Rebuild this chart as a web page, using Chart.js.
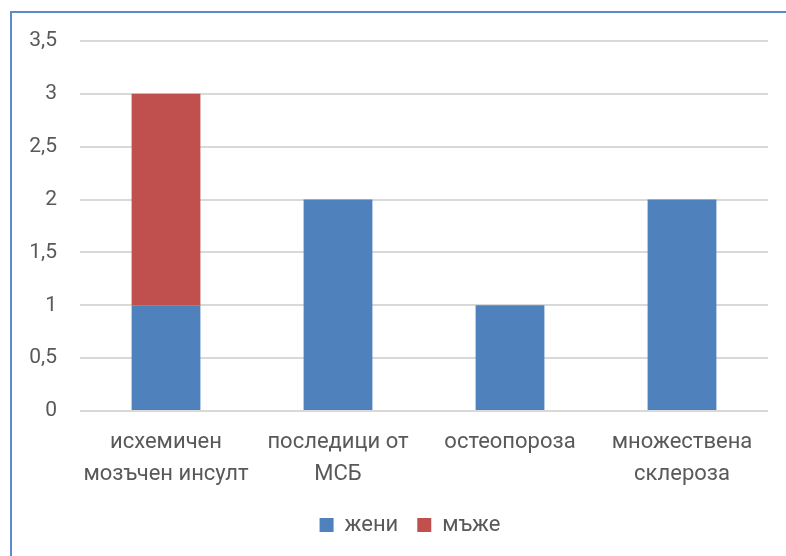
<!DOCTYPE html>
<html>
<head>
<meta charset="utf-8">
<script src="https://cdn.jsdelivr.net/npm/chart.js@4/dist/chart.umd.min.js"></script>
<style>
    html, body { margin: 0; padding: 0; background: #ffffff; overflow: hidden; }
    .frame {
        position: absolute;
        left: 10px;
        top: 11px;
        width: 800px;
        height: 560px;
        border-left: 2px solid #5b8bc8;
        border-top: 2px solid #5b8bc8;
    }
    .chart-box {
        position: absolute;
        left: 12px;
        top: 13px;
        width: 774px;
        height: 543px;
    }
</style>
</head>
<body>
<div class="frame"></div>
<div class="chart-box"><canvas id="diagChart"></canvas></div>
<script>
// Diagnoses split by sex
const categories = [
    ['исхемичен', 'мозъчен инсулт'],
    ['последици от', 'МСБ'],
    ['остеопороза'],
    ['множествена', 'склероза']
];
const women = [1, 2, 1, 2];
const men = [2, 0, 0, 0];
const yTicks = [0, 0.5, 1, 1.5, 2, 2.5, 3, 3.5];

const textColor = '#595959';
const fontFamily = 'Roboto, "Liberation Sans", sans-serif';

// nudge the legend so it sits centred under the whole frame
const legendShift = {
    id: 'legendShift',
    afterLayout(chart) {
        if (chart.legend) {
            chart.legend.left += 20;
            chart.legend.right += 20;
        }
    }
};

document.addEventListener('DOMContentLoaded', function() {
    const ctx = document.getElementById('diagChart');
    new Chart(ctx, {
        type: 'bar',
        data: {
            labels: categories,
            datasets: [{
                label: 'жени',
                data: women,
                backgroundColor: '#4f81bd',
                barPercentage: 0.4,
                categoryPercentage: 1.0
            },
            {
                label: 'мъже',
                data: men,
                backgroundColor: '#c0504d',
                barPercentage: 0.4,
                categoryPercentage: 1.0
            }]
        },
        plugins: [legendShift],
        options: {
            responsive: true,
            maintainAspectRatio: false,
            animation: false,
            layout: {
                padding: { top: 28, right: 18, bottom: 10, left: 0 }
            },
            scales: {
                x: {
                    stacked: true,
                    grid: { display: false, drawTicks: false },
                    border: { display: false },
                    ticks: {
                        color: textColor,
                        font: { family: fontFamily, size: 22, lineHeight: 1.45 },
                        padding: 16,
                        maxRotation: 0,
                        autoSkip: false
                    },
                    afterFit: function(scale) {
                        scale.height = 84;
                        scale.paddingLeft = 0;
                        scale.paddingRight = 0;
                    }
                },
                y: {
                    stacked: true,
                    min: 0,
                    max: 3.5,
                    afterBuildTicks: function(scale) {
                        scale.ticks = yTicks.map(v => ({ value: v }));
                    },
                    grid: {
                        color: '#d9d9d9',
                        lineWidth: 2,
                        drawTicks: false
                    },
                    border: { display: false },
                    ticks: {
                        color: textColor,
                        font: { family: fontFamily, size: 21 },
                        padding: 23,
                        callback: function(value) {
                            return String(value).replace('.', ',');
                        }
                    },
                    afterFit: function(scale) {
                        scale.width = 68;
                        scale.paddingTop = 0;
                        scale.paddingBottom = 0;
                    }
                }
            },
            plugins: {
                legend: {
                    position: 'bottom',
                    labels: {
                        color: textColor,
                        font: { family: fontFamily, size: 22 },
                        boxWidth: 14,
                        boxHeight: 14,
                        padding: 19
                    }
                },
                tooltip: { enabled: false }
            }
        }
    });
});
</script>
</body>
</html>
